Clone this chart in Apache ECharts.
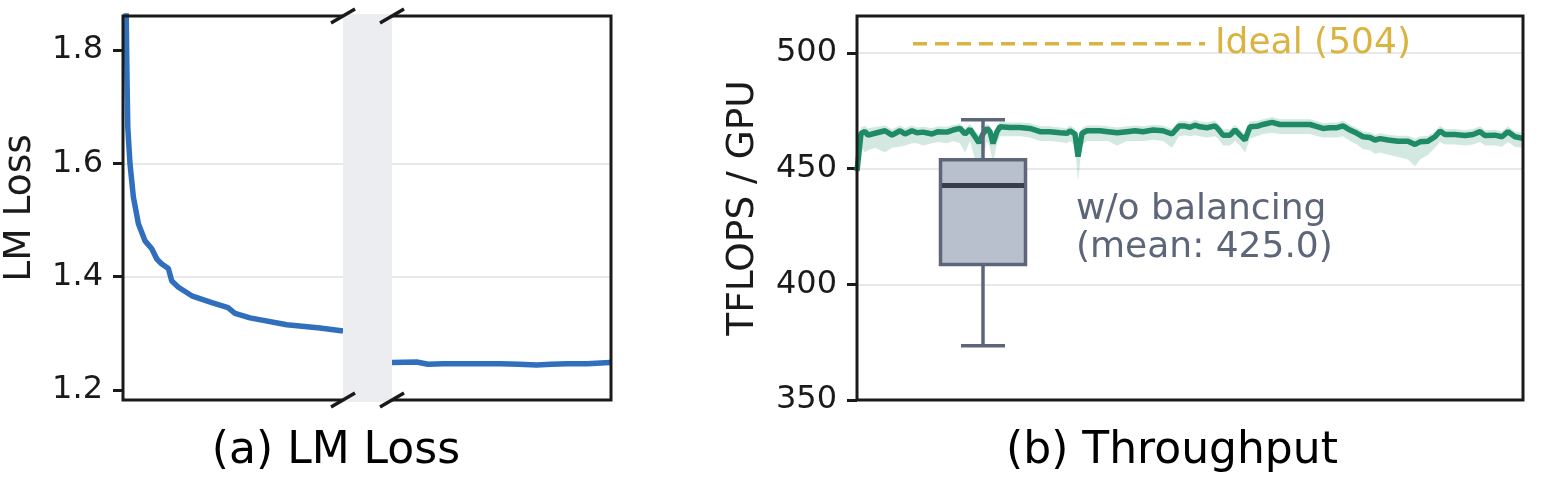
<!DOCTYPE html>
<html><head><meta charset="utf-8">
<script src="https://cdn.jsdelivr.net/npm/echarts@6/dist/echarts.min.js"></script>
<style>html,body{margin:0;padding:0;background:#fff}#c{width:1553px;height:478px}</style>
</head><body><div id="c"></div>
<script>
// ---------- DATA ----------
// (a) LM Loss: training steps before and after the axis break
const lossLeftX  = [0, 1, 1.6, 2, 2.4, 3.5, 5.2, 7.7, 11, 14.4, 16.9, 19.4, 22.7, 24.4, 27.7, 34.4, 44.4, 52.5, 53.5, 56, 63.5, 81.9, 98.5, 110];
const lossLeftY  = [2.6, 2.1, 1.86, 1.75, 1.663, 1.599, 1.540, 1.493, 1.463, 1.449, 1.431, 1.422, 1.414, 1.392, 1.381, 1.366, 1.354, 1.345, 1.346, 1.335, 1.327, 1.315, 1.309, 1.304];
const lossRightX = [134.5, 146.8, 152.5, 160, 171.8, 188.5, 198, 206.8, 214, 221.8, 232, 243.5, 244];
const lossRightY = [1.248, 1.249, 1.245, 1.246, 1.246, 1.246, 1.245, 1.244, 1.245, 1.246, 1.246, 1.248, 1.248];
const lossBreak  = [110, 134.5];
const lossTicks  = [1.2, 1.4, 1.6, 1.8];

// (b) Throughput: TFLOPS / GPU per step, with its spread
const tputX = [0,4,8,11,18,28,35,43,48,55,60,66,75,81,90,96,103,108,113,118,122,126,130,133,136,140,143,153,163,173,183,193,203,210,213,218,221,225,230,243,251,260,270,278,286,296,306,315,322,328,333,338,343,350,358,361,366,373,378,383,388,393,400,406,415,423,433,443,453,461,466,473,480,486,493,500,506,513,518,523,531,541,551,558,563,571,578,583,588,598,608,616,623,628,638,645,651,658,666];
const tputMean = [449,465.3,466,464.5,465.3,466.4,464.5,466.4,465,466.4,465.5,465.8,465,466,465.8,466.7,467.4,465,467,463.8,461.2,465,467.4,466,460.9,466,468.1,467.8,467.8,467.4,466,466,465.5,465.3,466.4,465,455.2,465.3,466.4,466.4,466,465.5,466,466.4,466,466.7,466.4,465,468.4,468.4,467.9,468.8,468.1,467.7,468.5,467.2,464.5,464.5,466.7,464.5,462.4,468.1,468.3,469.1,470,469.1,469.1,469.1,469.1,468.1,467.4,467.7,467.7,468.5,466.7,465.3,463.8,463.5,462.4,463,462.4,461.9,461.9,460.5,461.6,461.9,463.8,466.3,464.8,464.8,464.3,464.8,466,464.3,464.5,463.8,466,463.8,463.1];
const tputLow = [445,459,457,458,459,457,459,459.5,460,461,461,460,461,461.5,461,462,461,457,462,454,454,454,462,459,452,461,464,464,464,463.5,462,462,461.5,461,462,460,445,460,462,462,462,460,462,462,462,462.5,462,459,464,464.5,464,464.5,464,463.5,464,463,460,460,462,460,457,463,464,465,465.5,465,465,465,465,464,463.5,463.5,463.5,464,462,460.5,458.5,458,456.5,457,456,455,454,451,454,456,459,461.5,460.5,460.5,460,460.5,461.5,460,460,459.5,461.5,459.5,459];
const tputHigh = [451,468,468.5,467.5,468,468.7,467,468.7,467.5,468.7,467.8,468.1,467.5,468.3,468.1,468.9,469.5,467.5,469.3,466.5,464.5,467.5,469.5,468.3,463.5,468.5,470.3,470,470,469.7,468.3,468.3,467.8,467.6,468.7,467.3,458.5,467.6,468.7,468.7,468.3,467.8,468.3,468.7,468.3,469,468.7,467.3,470.7,470.7,470.2,471.1,470.4,470,470.8,469.5,467,467,469,467,465,470.5,470.6,471.4,472.3,471.4,471.4,471.4,471.4,470.4,469.7,470,470,470.8,469,467.6,466.1,465.8,464.7,465.3,464.7,464.2,464.2,463,463.9,464.2,466.1,468.6,467.1,467.1,466.6,467.1,468.3,466.6,466.8,466.1,468.3,466.1,465.5];
const idealX = [56, 348];
const idealValue = 504;
// w/o balancing box: [x, whiskerLow, q1, median, q3, whiskerHigh]
const boxStats = [126, 373.4, 408.6, 442.7, 453.9, 471.1];
const boxMean = 425.0;
const tputTicks = [350, 400, 450, 500];

// ---------- STYLE ----------
const FONT = 'DejaVu Sans';
const INK = '#1a1a1a';
const GRID = '#e0e0e0';
const BLUE = '#2f6fbe';
const GREEN = '#1e8a66';
const GOLD = '#dab340';
const SLATE = '#5d6678';

const chart = echarts.init(document.getElementById('c'), null, {renderer: 'canvas'});

function yAxisCommon(extra) {
  return Object.assign({
    type: 'value',
    axisLine: {show: false},
    axisTick: {show: true, inside: false, length: 10, lineStyle: {color: INK, width: 3}},
    axisLabel: {fontSize: 32, color: INK, fontFamily: FONT, margin: 20},
    splitLine: {show: true, showMinLine: false, showMaxLine: false, lineStyle: {color: GRID, width: 1.5}},
    nameLocation: 'middle',
    nameRotate: 90,
    nameTextStyle: {fontSize: 37.5, color: INK, fontFamily: FONT}
  }, extra);
}

const option = {
  animation: false,
  backgroundColor: '#fff',
  grid: [
    {left: 123, top: 16, width: 488, height: 384, show: true, borderColor: INK, borderWidth: 3, backgroundColor: 'transparent', z: 4},
    {left: 857, top: 16, width: 666, height: 384, show: true, borderColor: INK, borderWidth: 3, backgroundColor: 'transparent', z: 4}
  ],
  xAxis: [
    {gridIndex: 0, type: 'value', min: 0, max: 244, show: false},
    {gridIndex: 1, type: 'value', min: 0, max: 666, show: false}
  ],
  yAxis: [
    yAxisCommon({
      gridIndex: 0, min: 1.182, max: 1.86, name: 'LM Loss', nameGap: 84,
      axisTick: {show: true, inside: false, length: 10, lineStyle: {color: INK, width: 3}, customValues: lossTicks},
      axisLabel: {fontSize: 32, color: INK, fontFamily: FONT, margin: 20, customValues: lossTicks, formatter: v => v.toFixed(1)}
    }),
    yAxisCommon({
      gridIndex: 1, min: 350, max: 516, interval: 50, name: 'TFLOPS / GPU', nameGap: 95,
      axisLabel: {fontSize: 32, color: INK, fontFamily: FONT, margin: 20, showMaxLabel: false,
        formatter: v => (tputTicks.indexOf(v) >= 0 ? String(v) : '')}
    })
  ],
  series: [
    {type: 'line', xAxisIndex: 0, yAxisIndex: 0, showSymbol: false, z: 3,
      lineStyle: {color: BLUE, width: 5.5}, data: lossLeftX.map((x, i) => [x, lossLeftY[i]])},
    {type: 'line', xAxisIndex: 0, yAxisIndex: 0, showSymbol: false, z: 3,
      lineStyle: {color: BLUE, width: 5.5}, data: lossRightX.map((x, i) => [x, lossRightY[i]])},
    {type: 'custom', xAxisIndex: 1, yAxisIndex: 1, z: 2, silent: true,
      data: [0],
      renderItem: function (params, api) {
        const pts = [];
        for (let i = 0; i < tputX.length; i++) pts.push(api.coord([tputX[i], tputHigh[i]]));
        for (let i = tputX.length - 1; i >= 0; i--) pts.push(api.coord([tputX[i], tputLow[i]]));
        return {type: 'polygon', shape: {points: pts}, style: {fill: 'rgba(30,138,102,0.2)'}};
      }},
    {type: 'line', xAxisIndex: 1, yAxisIndex: 1, showSymbol: false, z: 3,
      lineStyle: {color: GREEN, width: 5.5}, data: tputX.map((x, i) => [x, tputMean[i]])},
    {type: 'line', xAxisIndex: 1, yAxisIndex: 1, showSymbol: false, z: 3,
      lineStyle: {color: GOLD, width: 3.5, type: [14, 8]},
      data: idealX.map(x => [x, idealValue]),
      endLabel: {show: true, formatter: 'Ideal (' + idealValue + ')', color: GOLD, fontSize: 36, fontFamily: FONT, distance: 10}},
    {type: 'custom', xAxisIndex: 1, yAxisIndex: 1, z: 5, silent: true,
      data: [boxStats],
      renderItem: function (params, api) {
        const x = api.value(0);
        const lo = api.coord([x, api.value(1)]);
        const q1 = api.coord([x, api.value(2)]);
        const md = api.coord([x, api.value(3)]);
        const q3 = api.coord([x, api.value(4)]);
        const hi = api.coord([x, api.value(5)]);
        const cx = lo[0], bw = 42.5, cw = 22;
        const ls = {stroke: SLATE, lineWidth: 3.5};
        const txt = api.coord([219, boxMean]);
        return {type: 'group', children: [
          {type: 'line', shape: {x1: cx, y1: hi[1], x2: cx, y2: q3[1]}, style: ls},
          {type: 'line', shape: {x1: cx, y1: q1[1], x2: cx, y2: lo[1]}, style: ls},
          {type: 'line', shape: {x1: cx - cw, y1: hi[1], x2: cx + cw, y2: hi[1]}, style: ls},
          {type: 'line', shape: {x1: cx - cw, y1: lo[1], x2: cx + cw, y2: lo[1]}, style: ls},
          {type: 'rect', shape: {x: cx - bw, y: q3[1], width: 2 * bw, height: q1[1] - q3[1]},
            style: {fill: '#b8c0cd', stroke: SLATE, lineWidth: 3.5}},
          {type: 'line', shape: {x1: cx - bw + 1.5, y1: md[1], x2: cx + bw - 1.5, y2: md[1]}, style: {stroke: '#383e4a', lineWidth: 5}},
          {type: 'text', x: txt[0], y: txt[1] + 2, style: {text: 'w/o balancing\n(mean: ' + boxMean.toFixed(1) + ')',
            fill: SLATE, fontSize: 36, fontFamily: FONT, lineHeight: 38, align: 'left', verticalAlign: 'middle'}}
        ]};
      }}
  ],
  graphic: [
    {type: 'text', z: 100, style: {x: 336, y: 452, text: '(a) LM Loss', fill: '#000', fontSize: 44, fontFamily: FONT, align: 'center', verticalAlign: 'middle'}},
    {type: 'text', z: 100, style: {x: 1172, y: 452, text: '(b) Throughput', fill: '#000', fontSize: 44, fontFamily: FONT, align: 'center', verticalAlign: 'middle'}}
  ]
};
chart.setOption(option);

// axis-break band and break marks (positions via the axis scale)
const pTop = chart.convertToPixel({gridIndex: 0}, [lossBreak[0], 1.86]);
const pBot = chart.convertToPixel({gridIndex: 0}, [lossBreak[1], 1.182]);
const extra = [{type: 'rect', z: 50, shape: {x: pTop[0], y: pTop[1] - 2, width: pBot[0] - pTop[0], height: pBot[1] - pTop[1] + 4}, style: {fill: '#ebedf0'}}];
[pTop[0], pBot[0]].forEach(ex => {
  [pTop[1], pBot[1]].forEach(ey => {
    extra.push({type: 'line', z: 60, shape: {x1: ex - 12, y1: ey + 7, x2: ex + 12, y2: ey - 7}, style: {stroke: INK, lineWidth: 3.5}});
  });
});
chart.setOption({graphic: option.graphic.concat(extra)});
</script></body></html>
